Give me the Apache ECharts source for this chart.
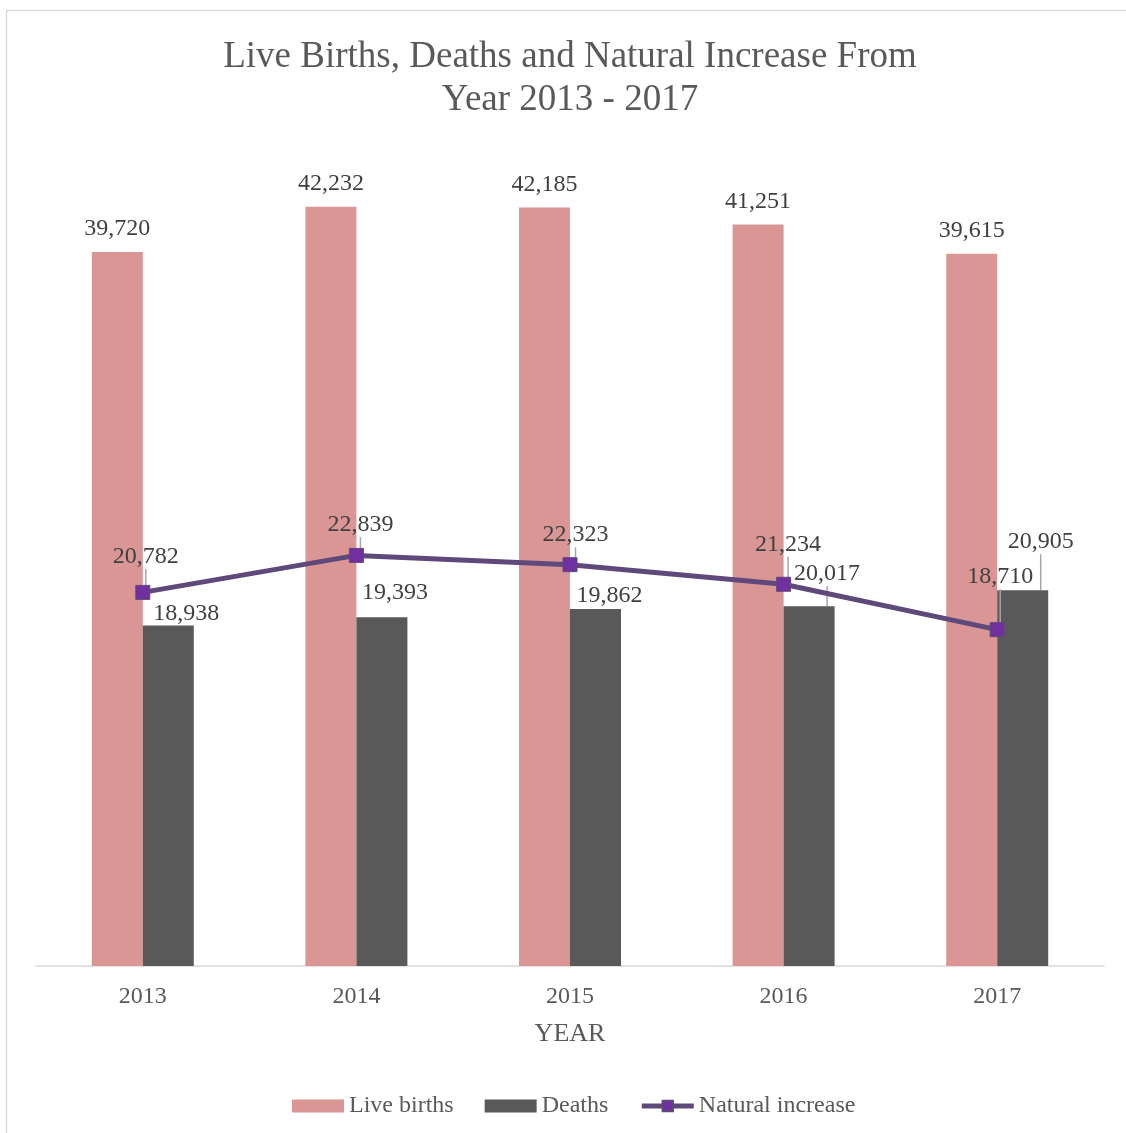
<!DOCTYPE html>
<html>
<head>
<meta charset="utf-8">
<script src="https://cdn.jsdelivr.net/npm/echarts@6/dist/echarts.min.js"></script>
<style>
html,body{margin:0;padding:0;background:#fff;}
#chart{width:1126px;height:1133px;}
</style>
</head>
<body>
<div id="chart"></div>
<script>
const years = ['2013', '2014', '2015', '2016', '2017'];
const liveBirths = [39720, 42232, 42185, 41251, 39615];
const deaths = [18938, 19393, 19862, 20017, 20905];
const naturalIncrease = [20782, 22839, 22323, 21234, 18710];

// label nudges (px), as placed in the reference
const deathsLabelShift = [[18, 5], [13, -8], [14, 4], [18, -15], [18, -31]];
const deathsLabelLine = [false, false, false, true, true];
const increaseLabelShift = [[3, -11], [4, -6], [5.5, -5], [4.5, -15], [3, -28]];

const FONT = '"Liberation Serif", "Times New Roman", serif';
const fmt = v => v.toLocaleString('en-US');

const chart = echarts.init(document.getElementById('chart'), null, {renderer: 'canvas'});

chart.setOption({
  backgroundColor: '#ffffff',
  animation: false,
  graphic: [{
    type: 'rect',
    shape: {x: 6.5, y: 10.5, width: 1140, height: 1140},
    style: {fill: 'none', stroke: '#d9d9d9', lineWidth: 1.5},
    silent: true
  }],
  title: {
    text: 'Live Births, Deaths and Natural Increase From\nYear 2013 - 2017',
    left: 570,
    top: 36,
    padding: 0,
    textAlign: 'center',
    textStyle: {
      fontFamily: FONT,
      fontSize: 37,
      fontWeight: 'normal',
      color: '#595959',
      lineHeight: 43
    }
  },
  legend: {
    left: 292,
    top: 1094,
    padding: 0,
    itemWidth: 52,
    itemHeight: 13,
    itemGap: 31,
    textStyle: {fontFamily: FONT, fontSize: 24, color: '#595959'},
    lineStyle: {width: 5},
    data: [
      {name: 'Live births', icon: 'rect'},
      {name: 'Deaths', icon: 'rect'},
      {name: 'Natural increase'}
    ]
  },
  grid: {left: 36, right: 22, top: 157, bottom: 167, containLabel: false},
  xAxis: {
    type: 'category',
    data: years,
    name: 'YEAR',
    nameLocation: 'middle',
    nameGap: 55,
    nameTextStyle: {fontFamily: FONT, fontSize: 26, color: '#595959'},
    axisLine: {lineStyle: {color: '#d9d9d9', width: 1.5}},
    axisTick: {show: false},
    axisLabel: {fontFamily: FONT, fontSize: 24, color: '#595959', margin: 19}
  },
  yAxis: {
    type: 'value',
    min: 0,
    max: 45000,
    show: false,
    splitLine: {show: false}
  },
  series: [
    {
      name: 'Live births',
      type: 'bar',
      data: liveBirths,
      barWidth: 51,
      barGap: '0%',
      itemStyle: {color: '#D99694'},
      label: {
        show: true,
        position: 'top',
        distance: 11,
        formatter: p => fmt(p.value),
        fontFamily: FONT,
        fontSize: 24,
        color: '#404040'
      }
    },
    {
      name: 'Deaths',
      type: 'bar',
      data: deaths.map((v, i) => ({value: v, labelLine: {show: deathsLabelLine[i]}})),
      barWidth: 51,
      barGap: '0%',
      itemStyle: {color: '#595959'},
      label: {
        show: true,
        position: 'top',
        distance: 5,
        formatter: p => fmt(p.value),
        fontFamily: FONT,
        fontSize: 24,
        color: '#404040'
      },
      labelLine: {show: true, lineStyle: {color: '#a6a6a6', width: 1.5}},
      labelLayout: p => ({dx: deathsLabelShift[p.dataIndex][0], dy: deathsLabelShift[p.dataIndex][1]})
    },
    {
      name: 'Natural increase',
      type: 'line',
      data: naturalIncrease,
      z: 5,
      symbol: 'rect',
      symbolSize: 14,
      lineStyle: {color: '#5F497A', width: 5},
      itemStyle: {color: '#7030A0', borderColor: '#5F497A', borderWidth: 1},
      label: {
        show: true,
        position: 'top',
        distance: 5,
        formatter: p => fmt(p.value),
        fontFamily: FONT,
        fontSize: 24,
        color: '#404040'
      },
      labelLine: {show: true, lineStyle: {color: '#a6a6a6', width: 1.5}},
      labelLayout: p => ({dx: increaseLabelShift[p.dataIndex][0], dy: increaseLabelShift[p.dataIndex][1]})
    }
  ]
});
</script>
</body>
</html>
